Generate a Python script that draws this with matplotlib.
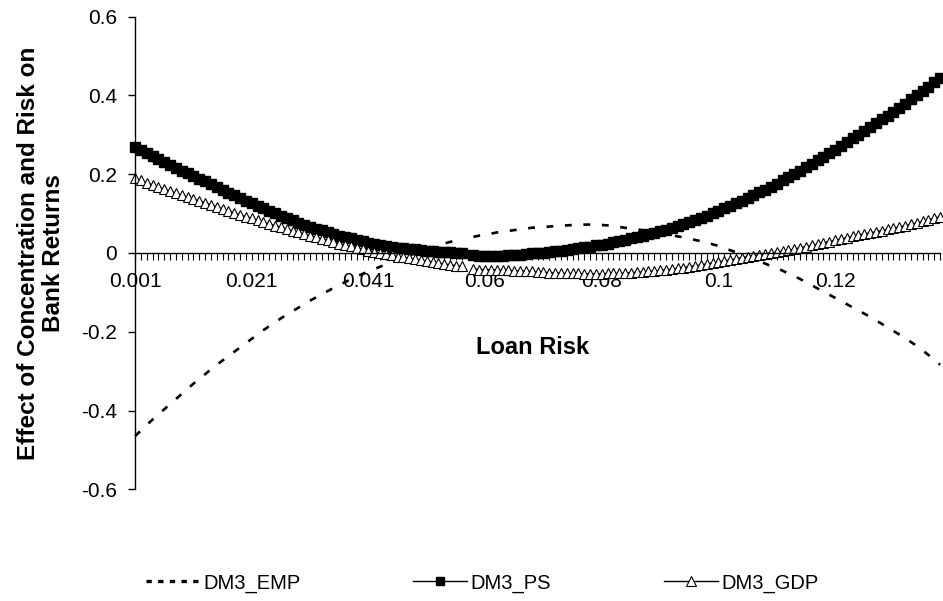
import numpy as np
import matplotlib
matplotlib.use('Agg')
import matplotlib.pyplot as plt
from matplotlib.lines import Line2D

plt.rcParams['font.family'] = ['Liberation Sans', 'DejaVu Sans']
plt.rcParams['axes.unicode_minus'] = False

nan = np.nan

# loan risk categories: 0.001 ... 0.057, one empty row, 0.058 ... 0.138
x_tick_labels = ['0.001', '0.021', '0.041', '0.06', '0.08', '0.1', '0.12']
y_ticks = [-0.6, -0.4, -0.2, 0.0, 0.2, 0.4, 0.6]
y_tick_labels = ['-0.6', '-0.4', '-0.2', '0', '0.2', '0.4', '0.6']

dm3_emp = [
    -0.465, -0.451, -0.437, -0.423, -0.410, -0.397, -0.384, -0.371, -0.358, -0.345,
    -0.332, -0.320, -0.308, -0.296, -0.284, -0.273, -0.262, -0.251, -0.240, -0.229,
    -0.218, -0.207, -0.196, -0.186, -0.176, -0.166, -0.157, -0.148, -0.139, -0.130,
    -0.121, -0.113, -0.105, -0.097, -0.089, -0.081, -0.074, -0.067, -0.060, -0.053,
    -0.047, -0.041, -0.035, -0.029, -0.023, -0.017, -0.012, -0.006, -0.001, 0.004,
    0.009, 0.014, 0.019, 0.024, 0.028, 0.032, 0.036, nan, 0.041, 0.044,
    0.047, 0.049, 0.052, 0.054, 0.056, 0.058, 0.060, 0.062, 0.064, 0.065,
    0.066, 0.067, 0.068, 0.069, 0.070, 0.071, 0.072, 0.072, 0.072, 0.071,
    0.071, 0.070, 0.068, 0.066, 0.064, 0.062, 0.060, 0.058, 0.055, 0.053,
    0.050, 0.048, 0.045, 0.042, 0.040, 0.037, 0.033, 0.030, 0.027, 0.022,
    0.018, 0.013, 0.007, 0.002, -0.004, -0.010, -0.015, -0.021, -0.027, -0.033,
    -0.039, -0.045, -0.052, -0.059, -0.066, -0.074, -0.082, -0.090, -0.098, -0.106,
    -0.114, -0.122, -0.130, -0.138, -0.146, -0.154, -0.162, -0.171, -0.180, -0.189,
    -0.198, -0.207, -0.216, -0.226, -0.236, -0.247, -0.259, -0.271, -0.284,
]

dm3_ps = [
    0.270, 0.262, 0.254, 0.246, 0.238, 0.230, 0.223, 0.216, 0.209, 0.203,
    0.196, 0.189, 0.182, 0.175, 0.167, 0.160, 0.153, 0.146, 0.139, 0.133,
    0.126, 0.120, 0.113, 0.107, 0.101, 0.095, 0.089, 0.083, 0.077, 0.072,
    0.067, 0.062, 0.058, 0.053, 0.048, 0.044, 0.041, 0.037, 0.033, 0.030,
    0.026, 0.023, 0.021, 0.018, 0.016, 0.013, 0.012, 0.010, 0.009, 0.007,
    0.006, 0.004, 0.003, 0.002, 0.002, 0.001, 0.001, nan, -0.006, -0.007,
    -0.008, -0.008, -0.008, -0.007, -0.006, -0.005, -0.004, -0.002, -0.001, 0.000,
    0.001, 0.003, 0.004, 0.006, 0.008, 0.010, 0.012, 0.014, 0.016, 0.019,
    0.021, 0.024, 0.027, 0.030, 0.033, 0.037, 0.040, 0.044, 0.047, 0.051,
    0.055, 0.059, 0.064, 0.068, 0.073, 0.078, 0.083, 0.089, 0.095, 0.101,
    0.107, 0.113, 0.119, 0.126, 0.133, 0.140, 0.147, 0.154, 0.161, 0.168,
    0.176, 0.184, 0.192, 0.200, 0.208, 0.217, 0.226, 0.235, 0.244, 0.253,
    0.262, 0.272, 0.282, 0.291, 0.300, 0.310, 0.319, 0.329, 0.339, 0.349,
    0.359, 0.369, 0.379, 0.390, 0.400, 0.411, 0.422, 0.433, 0.444,
]

dm3_gdp = [
    0.190, 0.184, 0.178, 0.173, 0.167, 0.162, 0.157, 0.152, 0.147, 0.142,
    0.137, 0.132, 0.127, 0.122, 0.117, 0.112, 0.107, 0.102, 0.097, 0.092,
    0.088, 0.083, 0.078, 0.074, 0.069, 0.065, 0.060, 0.056, 0.052, 0.048,
    0.044, 0.040, 0.036, 0.032, 0.028, 0.024, 0.020, 0.017, 0.013, 0.010,
    0.006, 0.003, 0.000, -0.003, -0.006, -0.009, -0.011, -0.014, -0.016, -0.019,
    -0.021, -0.024, -0.026, -0.028, -0.030, -0.032, -0.034, nan, -0.041, -0.042,
    -0.042, -0.043, -0.043, -0.044, -0.044, -0.045, -0.046, -0.046, -0.047, -0.048,
    -0.049, -0.050, -0.051, -0.051, -0.052, -0.052, -0.052, -0.053, -0.053, -0.053,
    -0.053, -0.052, -0.052, -0.052, -0.051, -0.050, -0.049, -0.048, -0.047, -0.046,
    -0.044, -0.043, -0.041, -0.039, -0.037, -0.035, -0.033, -0.030, -0.028, -0.025,
    -0.023, -0.020, -0.018, -0.015, -0.012, -0.010, -0.007, -0.005, -0.002, 0.000,
    0.002, 0.005, 0.007, 0.010, 0.013, 0.016, 0.019, 0.022, 0.026, 0.029,
    0.032, 0.035, 0.039, 0.042, 0.045, 0.048, 0.051, 0.054, 0.057, 0.060,
    0.063, 0.066, 0.069, 0.073, 0.076, 0.080, 0.084, 0.088, 0.092,
]


def main():
    n = len(dm3_ps)
    x = np.arange(n)

    fig = plt.figure(figsize=(9.43, 6.01), dpi=100)
    ax = fig.add_axes([0.1432, 0.1859, 0.8537, 0.7864])

    ax.plot(x, dm3_emp, color='black', lw=1.9, linestyle=(0, (2.6, 4.4)),
            clip_on=False)
    ax.plot(x, dm3_ps, color='black', lw=1.0, marker='s', markersize=7,
            mfc='black', mec='black', clip_on=False)
    ax.plot(x, dm3_gdp, color='black', lw=1.0, marker='^', markersize=7.5,
            mfc='white', mec='black', mew=0.8, clip_on=False)

    ax.set_xlim(0, n - 1)
    ax.set_ylim(-0.6, 0.6)

    for side in ['top', 'right']:
        ax.spines[side].set_visible(False)
    ax.spines['bottom'].set_position(('data', 0))
    ax.spines['left'].set_linewidth(1.0)
    ax.spines['bottom'].set_linewidth(1.0)

    ax.set_yticks(y_ticks)
    ax.set_yticklabels(y_tick_labels)
    ax.tick_params(axis='y', direction='out', length=5, width=1.0,
                   labelsize=15, pad=8)

    ax.set_xticks(np.arange(0, n, 20))
    ax.set_xticklabels(x_tick_labels)
    ax.set_xticks(x, minor=True)
    ax.tick_params(axis='x', which='both', direction='out', length=5,
                   width=0.8, labelsize=15, pad=9)

    fig.text(41 / 943, 1 - 253 / 601,
             'Effect of Concentration and Risk on\nBank Returns',
             rotation=90, ha='center', va='center', multialignment='center',
             fontsize=17.5, fontweight='bold', linespacing=1.1)
    fig.text(533 / 943, 1 - 347 / 601, 'Loan Risk', ha='center',
             va='center', fontsize=17, fontweight='bold')

    handles = [
        Line2D([], [], color='black', lw=2.4, linestyle=(0, (1.6, 1.9))),
        Line2D([], [], color='black', lw=1.0, marker='s', markersize=6),
        Line2D([], [], color='black', lw=1.0, marker='^', markersize=6.5,
               mfc='white', mew=0.8),
    ]
    fig.legend(handles, ['DM3_EMP', 'DM3_PS', 'DM3_GDP'], ncol=3,
               loc='center', bbox_to_anchor=(482 / 943, 1 - 583 / 601),
               frameon=False, fontsize=14.5, numpoints=1, handlelength=2.7,
               handletextpad=0.15, columnspacing=5.6)

    fig.savefig('out.png', dpi=100)


if __name__ == '__main__':
    main()
